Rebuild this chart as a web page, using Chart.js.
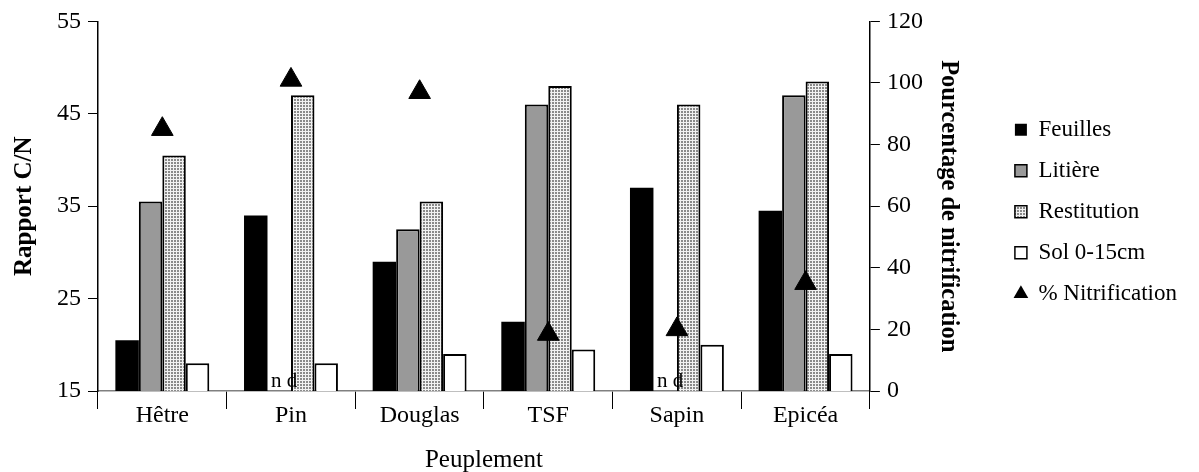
<!DOCTYPE html>
<html>
<head>
<meta charset="utf-8">
<script src="https://cdn.jsdelivr.net/npm/chart.js@4"></script>
<style>
  body { margin: 0; background: #fff; }
  #wrap { width: 1199px; height: 472px; }
</style>
</head>
<body>
<div id="wrap"><canvas id="myChart"></canvas></div>
<script>
const categories = ["Hêtre", "Pin", "Douglas", "TSF", "Sapin", "Epicéa"];
const feuilles = [20.5, 34, 29, 22.5, 37, 34.5];
const litiere = [35.5, null, 32.5, 46, null, 47];
const restitution = [40.5, 47, 35.5, 48, 46, 48.5];
const sol = [18, 18, 19, 19.5, 20, 19];
const nitrification = [85, 101, 97, 18.5, 20, 35];
const leftTicks = [15, 25, 35, 45, 55];
const rightTicks = [0, 20, 40, 60, 80, 100, 120];

// dotted fill for the "Restitution" bars
function makeDots() {
  const c = document.createElement("canvas");
  c.width = 3;
  c.height = 3;
  const g = c.getContext("2d");
  g.fillStyle = "#f2f2f2";
  g.fillRect(0, 0, 3, 3);
  g.fillStyle = "#8a8a8a";
  g.fillRect(0, 0, 2, 2);
  return g.createPattern(c, "repeat");
}
const dots = makeDots();

Chart.defaults.font.family = "'Liberation Serif', 'Times New Roman', serif";
Chart.defaults.font.size = 24;
Chart.defaults.color = "#000";

// writes "n d" where a Litière value is missing
const ndPlugin = {
  id: "nd",
  afterDatasetsDraw(chart) {
    const meta = chart.getDatasetMeta(1);
    const ctx = chart.ctx;
    const base = chart.scales.y.bottom;
    ctx.save();
    ctx.font = "21px 'Liberation Serif', serif";
    ctx.fillStyle = "#000";
    ctx.textAlign = "center";
    ctx.textBaseline = "alphabetic";
    litiere.forEach((v, i) => {
      if (v === null) ctx.fillText("n d", meta.data[i].x + 5, base - 4);
    });
    ctx.restore();
  },
};

const barCommon = { categoryPercentage: 0.73, barPercentage: 1.0, borderSkipped: false };

const data = {
  labels: categories,
  datasets: [
    { label: "Feuilles", data: feuilles, backgroundColor: "#000", borderColor: "#000", borderWidth: 0, ...barCommon },
    { label: "Litière", data: litiere, backgroundColor: "#999999", borderColor: "#000", borderWidth: 2, ...barCommon },
    { label: "Restitution", data: restitution, backgroundColor: dots, borderColor: "#000", borderWidth: 2, ...barCommon },
    { label: "Sol 0-15cm", data: sol, backgroundColor: "#fff", borderColor: "#000", borderWidth: 2, ...barCommon },
    {
      type: "line",
      label: "% Nitrification",
      data: nitrification,
      yAxisID: "y1",
      showLine: false,
      pointStyle: "triangle",
      pointRadius: 12.5,
      pointHoverRadius: 12.5,
      backgroundColor: "#000",
      borderColor: "#000",
      order: -1,
    },
  ],
};

const config = {
  type: "bar",
  data: data,
  plugins: [ndPlugin],
  options: {
    responsive: true,
    maintainAspectRatio: false,
    animation: false,
    layout: { padding: { top: 20, right: 12, left: 0, bottom: 0 } },
    plugins: {
      tooltip: { enabled: false },
      legend: {
        position: "right",
        fullSize: false,
        title: { display: true, text: " ", font: { size: 1 }, padding: { top: 5, bottom: 5 } },
        labels: {
          usePointStyle: true,
          boxWidth: 12,
          boxHeight: 12,
          padding: 18,
          font: { size: 23 },
          sort: (a, b) => a.datasetIndex - b.datasetIndex,
          generateLabels(chart) {
            const items = Chart.defaults.plugins.legend.labels.generateLabels(chart);
            items.forEach((it) => {
              it.pointStyle = it.datasetIndex === 4 ? "triangle" : "rect";
              it.strokeStyle = "#000";
              it.lineWidth = it.datasetIndex === 0 || it.datasetIndex === 4 ? 0 : 1.5;
            });
            return items;
          },
        },
      },
    },
    scales: {
      x: {
        border: { color: "#808080", width: 1.5 },
        grid: { display: true, drawOnChartArea: false, drawTicks: true, tickLength: 18, color: "#000", offset: true },
        ticks: { padding: -8, font: { size: 24 } },
        title: { display: true, text: "Peuplement", font: { size: 25 }, padding: { top: 0, bottom: -3 } },
        afterFit(scale) { scale.height = 81; },
      },
      y: {
        min: 15,
        max: 55,
        afterBuildTicks(scale) { scale.ticks = leftTicks.map((v) => ({ value: v })); },
        border: { color: "#000", width: 1.5 },
        grid: { drawOnChartArea: false, tickLength: 10, color: "#000" },
        ticks: { padding: 7, font: { size: 24 } },
        title: { display: true, text: "Rapport C/N", font: { size: 25, weight: "bold" }, padding: { top: 10, bottom: 0 } },
        afterFit(scale) { scale.width = 98; },
      },
      y1: {
        position: "right",
        min: 0,
        max: 120,
        afterBuildTicks(scale) { scale.ticks = rightTicks.map((v) => ({ value: v })); },
        border: { color: "#000", width: 1.5 },
        grid: { drawOnChartArea: false, tickLength: 10, color: "#000" },
        ticks: { padding: 7, font: { size: 24 } },
        title: { display: true, text: "Pourcentage de nitrification", font: { size: 24.5, weight: "bold" }, padding: { top: 34, bottom: 0 } },
        afterFit(scale) { scale.width = 127; },
      },
    },
  },
};

const myChart = new Chart(document.getElementById("myChart"), config);
</script>
</body>
</html>
